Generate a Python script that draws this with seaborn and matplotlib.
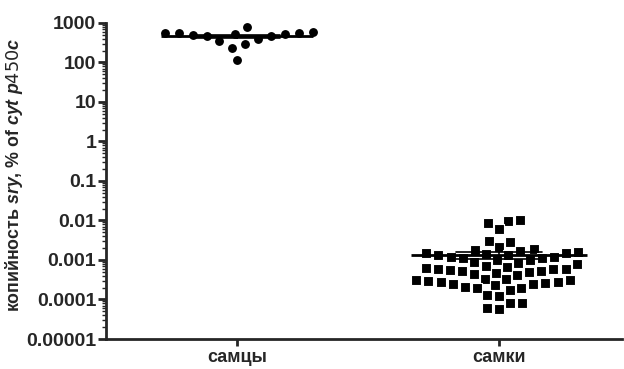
import numpy as np
import pandas as pd
import matplotlib
matplotlib.use('Agg')
import matplotlib.pyplot as plt
import seaborn as sns
from matplotlib.ticker import LogLocator, NullFormatter

# copy number of sry, % of cyt p450c
groups = ['самцы', 'самки']
males = [560, 560, 520, 480, 400, 800, 340, 235, 115, 300, 480, 500, 530, 550, 580]
females = [0.0105, 0.0098, 0.0085, 0.0062,
           0.0031, 0.0028,
           0.0021, 0.0019,
           0.0018, 0.0017, 0.0016, 0.0015, 0.0015, 0.0014, 0.0013, 0.0013,
           0.0012, 0.0012, 0.0011, 0.0011, 0.0010, 0.0010,
           0.0009, 0.0008, 0.00085, 0.0007,
           0.00066, 0.00058, 0.00052, 0.0006, 0.00048, 0.00063, 0.00050, 0.00055,
           0.00045, 0.0006, 0.00054, 0.00042,
           0.00034, 0.00028, 0.00031, 0.00026, 0.00024, 0.00028, 0.00033,
           0.00025, 0.00029, 0.00031, 0.00023,
           0.00021, 0.00019, 0.00017, 0.00020,
           0.00012, 0.00013,
           0.000082, 0.000080,
           0.000062, 0.000058]
ytick_values = [1e-5, 1e-4, 1e-3, 1e-2, 1e-1, 1, 10, 100, 1000]
ytick_labels = ['0.00001', '0.0001', '0.001', '0.01', '0.1', '1', '10', '100', '1000']

df = pd.DataFrame({'group': [groups[0]] * len(males) + [groups[1]] * len(females),
                   'value': males + females})

sns.set_style('ticks')
plt.rcParams['font.family'] = ['Liberation Sans', 'DejaVu Sans']
plt.rcParams['mathtext.fontset'] = 'custom'
plt.rcParams['mathtext.bfit'] = 'Liberation Sans:italic:bold'
plt.rcParams['mathtext.it'] = 'Liberation Sans:italic:bold'

fig = plt.figure(figsize=(6.24, 3.69), dpi=100)
ax = fig.add_axes([0.17, 0.0813, 0.827, 0.8564])

# white edges keep the dots apart like the Prism scatter
marker_for = {groups[0]: 'o', groups[1]: 's'}
size_for = {groups[0]: 8.0, groups[1]: 7.6}
edge_for = {groups[0]: 1.6, groups[1]: 0.8}
mean_width = {groups[0]: 0.58, groups[1]: 0.67}
for g in groups:
    sub = df[df['group'] == g]
    sns.swarmplot(data=sub, x='group', y='value', order=groups, marker=marker_for[g],
                  size=size_for[g], color='black', edgecolor='white',
                  linewidth=edge_for[g], ax=ax, zorder=2)

# mean line
for g in groups:
    sub = df[df['group'] == g]
    sns.boxplot(data=sub, x='group', y='value', order=groups, width=mean_width[g],
                showmeans=True, meanline=True, showbox=False, showcaps=False,
                showfliers=False, whiskerprops={'visible': False},
                medianprops={'visible': False},
                meanprops={'color': 'black', 'linestyle': '-', 'linewidth': 2},
                ax=ax, zorder=3)

# SEM bars
sns.pointplot(data=df, x='group', y='value', order=groups, errorbar='se',
              capsize=0.33, linestyle='none', markersize=0, color='black',
              err_kws={'linewidth': 1.2}, ax=ax, zorder=4)

ax.set_yscale('log')
ax.set_ylim(1e-5, 1000)
ax.set_xlim(-0.5, 1.47)
ax.set_yticks(ytick_values)
ax.set_yticklabels(ytick_labels)
ax.yaxis.set_minor_locator(LogLocator(base=10, subs=np.arange(2, 10), numticks=20))
ax.yaxis.set_minor_formatter(NullFormatter())

for side in ['top', 'right']:
    ax.spines[side].set_visible(False)
for side in ['left', 'bottom']:
    ax.spines[side].set_linewidth(2)
ax.tick_params(axis='y', which='major', length=6, width=2, labelsize=14, pad=1)
ax.tick_params(axis='y', which='minor', length=3, width=1)
ax.tick_params(axis='x', length=5, width=2, labelsize=13, pad=2)
for lab in ax.get_xticklabels() + ax.get_yticklabels():
    lab.set_fontweight('bold')

ax.set_xlabel('')
ax.set_ylabel(r'копийность $\mathit{sry}$, % of $\mathit{cyt\ p450c}$',
              fontsize=12.8, fontweight='bold')
ax.yaxis.set_label_coords(-0.158, 0.52)

fig.savefig('out.png', dpi=100)
